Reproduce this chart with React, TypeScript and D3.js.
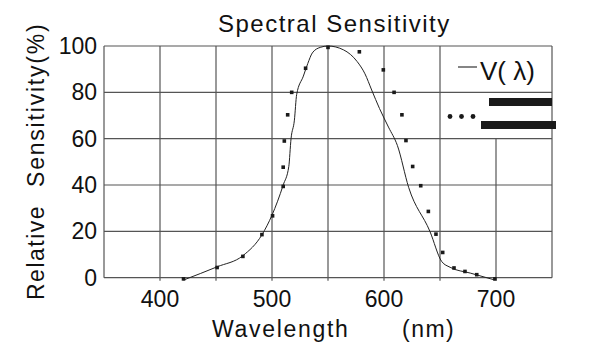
import React from "react";
import * as d3 from "d3";

const xTicks = [400, 500, 600, 700];
const yTicks = [0, 20, 40, 60, 80, 100];
const xGrid = [350, 400, 450, 500, 550, 600, 650, 700, 750];

// Solid curve V(λ)
const curveNm = [421, 451, 474, 491, 500, 510, 515, 517, 520, 522, 528, 532, 536, 543, 550, 564, 576, 583, 589, 596, 604, 612, 622, 641, 651.5, 659, 677, 699];
const curveVal = [-1, 4.7, 9.5, 18.5, 27, 40, 48, 60, 68, 79, 87, 92.5, 97, 99.4, 100, 98.3, 93.3, 88, 81, 73, 65, 57, 39, 20, 7, 4.5, 2, -1];

// Measured markers
const markNm = [421, 451, 474, 491, 500.5, 510, 510, 511, 514, 517.6, 530, 550, 578, 599.4, 609, 616, 619.6, 625.6, 632.8, 639.6, 646.4, 652.4, 662.5, 672.3, 682.8, 699];
const markVal = [-0.5, 4.4, 9.2, 18.6, 26.7, 39.4, 47.7, 59, 70.3, 80, 90.4, 99.4, 97.5, 89.7, 80, 70.3, 59.2, 48, 39.7, 28.6, 18.8, 10.9, 4.2, 2.7, 1.3, -0.5];

const FONT = "'Liberation Sans', Arial, sans-serif";

export default function App() {
  const x = d3.scaleLinear().domain([350, 750]).range([104, 552]);
  const y = d3.scaleLinear().domain([0, 100]).range([277.7, 46]);
  const line = d3
    .line<number>()
    .x((_, i) => x(curveNm[i]))
    .y((d) => y(d))
    .curve(d3.curveMonotoneX);
  const gridColor = "#555";
  const ink = "#111";
  return (
    <svg width={593} height={359} style={{ position: "absolute", left: 0, top: 0, background: "#fff" }} fontFamily={FONT}>
      <rect x={0} y={0} width={593} height={359} fill="#fff" />
      {/* horizontal gridlines */}
      {yTicks.map((t) => (
        <line key={"h" + t} x1={x(350)} x2={x(750)} y1={y(t)} y2={y(t)} stroke={gridColor} strokeWidth={1.2} />
      ))}
      {/* vertical gridlines */}
      {xGrid.map((t) => (
        <line
          key={"v" + t}
          x1={x(t)}
          x2={x(t)}
          y1={t === 700 ? y(60) : y(100)}
          y2={t === 350 || t === 750 ? y(0) : y(0) + 3}
          stroke={gridColor}
          strokeWidth={1.2}
        />
      ))}
      {/* curve */}
      <path d={line(curveVal) || ""} fill="none" stroke="#222" strokeWidth={1} />
      {/* markers */}
      {markNm.map((n, i) => (
        <rect key={"m" + i} x={x(n) - 1.8} y={y(markVal[i]) - 1.8} width={3.6} height={3.6} fill="#1a1a1a" />
      ))}
      {/* y tick labels */}
      {yTicks.map((t) => (
        <text key={"yt" + t} x={97} y={y(t)} dy="0.35em" textAnchor="end" fontSize={23} fill={ink}>
          {t}
        </text>
      ))}
      {/* x tick labels */}
      {xTicks.map((t) => (
        <text key={"xt" + t} x={x(t)} y={307} textAnchor="middle" fontSize={23} fill={ink}>
          {t}
        </text>
      ))}
      {/* title */}
      <text x={218} y={32} fontSize={24} letterSpacing={1.5} fill={ink}>
        Spectral Sensitivity
      </text>
      {/* x axis label */}
      <text x={212} y={337} fontSize={23} letterSpacing={1.7} fill={ink}>
        Wavelength
      </text>
      <text x={402} y={337} fontSize={23} letterSpacing={1.5} fill={ink}>
        (nm)
      </text>
      {/* y axis label */}
      <text transform="translate(44,300) rotate(-90)" fontSize={23} letterSpacing={1.5} fill={ink}>
        Relative
      </text>
      <text transform="translate(44,187) rotate(-90)" fontSize={23} letterSpacing={1.8} fill={ink}>
        Sensitivity(%)
      </text>
      {/* legend */}
      <line x1={458} x2={477} y1={67} y2={67} stroke="#333" strokeWidth={1.2} />
      <text x={480} y={80} fontSize={26} fill={ink}>
        V( λ)
      </text>
      {[450, 461.5, 473].map((cx) => (
        <circle key={"d" + cx} cx={cx} cy={116.5} r={2.4} fill="#1a1a1a" />
      ))}
      <rect x={489} y={98} width={63} height={8} fill="#1a1a1a" />
      <rect x={481} y={121} width={75} height={8} fill="#1a1a1a" />
    </svg>
  );
}
